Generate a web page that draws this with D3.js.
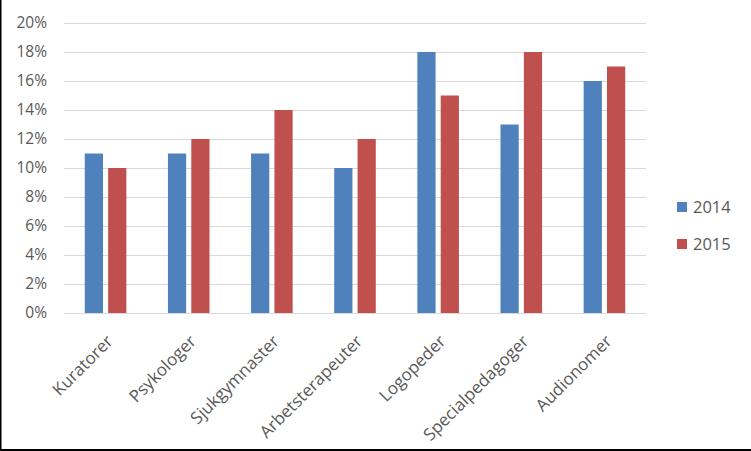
<!DOCTYPE html>
<html>
<head>
<meta charset="utf-8">
<script src="https://cdn.jsdelivr.net/npm/d3@7"></script>
<style>
  body { margin: 0; background: #fff; }
  svg { display: block; }
</style>
</head>
<body>
<div id="chart"></div>
<script>
// Data
const CATEGORIES = ["Kuratorer", "Psykologer", "Sjukgymnaster", "Arbetsterapeuter", "Logopeder", "Specialpedagoger", "Audionomer"];
const SERIES = ["2014", "2015"];
const VALUES_2014 = [0.11, 0.11, 0.11, 0.10, 0.18, 0.13, 0.16];
const VALUES_2015 = [0.10, 0.12, 0.14, 0.12, 0.15, 0.18, 0.17];
const Y_TICKS = [0, 0.02, 0.04, 0.06, 0.08, 0.10, 0.12, 0.14, 0.16, 0.18, 0.20];

const COLORS = {
  "2014": "#4f81bd",
  "2015": "#c0504d",
  grid: "#d9d9d9",
  text: "#595959",
};
const FONT = "'Open Sans', 'Liberation Sans', sans-serif";

const WIDTH = 751, HEIGHT = 451;
const plot = { left: 64, right: 646, top: 23, bottom: 313 };

const rows = CATEGORIES.map((c, i) => ({ cat: c, "2014": VALUES_2014[i], "2015": VALUES_2015[i] }));

const svg = d3.select("#chart").append("svg")
  .attr("width", WIDTH)
  .attr("height", HEIGHT);

const x0 = d3.scaleBand()
  .domain(CATEGORIES)
  .range([plot.left, plot.right])
  .paddingInner(0.5)
  .paddingOuter(0.25);

const x1 = d3.scaleBand()
  .domain(SERIES)
  .range([0, x0.bandwidth()])
  .paddingInner(0.22);

const y = d3.scaleLinear()
  .domain([0, 0.2])
  .range([plot.bottom, plot.top]);

// gridlines
svg.append("g")
  .selectAll("line")
  .data(Y_TICKS)
  .enter()
  .append("line")
  .attr("x1", plot.left)
  .attr("x2", plot.right)
  .attr("y1", (d) => Math.round(y(d)) + 0.5)
  .attr("y2", (d) => Math.round(y(d)) + 0.5)
  .attr("stroke", COLORS.grid)
  .attr("stroke-width", 1);

// y axis labels
const yAxis = svg.append("g")
  .attr("transform", `translate(${plot.left - 17},0)`)
  .call(d3.axisLeft(y).tickValues(Y_TICKS).tickFormat(d3.format(".0%")).tickSize(0).tickPadding(0));
yAxis.select(".domain").remove();
yAxis.selectAll("text")
  .attr("fill", COLORS.text)
  .style("font-family", FONT)
  .style("font-size", "15.5px");

// bars
svg.append("g")
  .selectAll("g")
  .data(rows)
  .enter()
  .append("g")
  .attr("transform", (d) => `translate(${x0(d.cat)},0)`)
  .selectAll("rect")
  .data((d) => SERIES.map((s) => ({ key: s, value: d[s] })))
  .enter()
  .append("rect")
  .attr("x", (d) => x1(d.key))
  .attr("width", x1.bandwidth())
  .attr("y", (d) => y(d.value))
  .attr("height", (d) => y(0) - y(d.value))
  .attr("fill", (d) => COLORS[d.key]);

// x labels, rotated
svg.append("g")
  .selectAll("text")
  .data(CATEGORIES)
  .enter()
  .append("text")
  .attr("transform", (d) => `translate(${x0(d) + x0.bandwidth() / 2},${plot.bottom + 21}) rotate(-45)`)
  .attr("text-anchor", "end")
  .attr("dy", "0.7em")
  .attr("fill", COLORS.text)
  .style("font-family", FONT)
  .style("font-size", "17px")
  .text((d) => d);

// legend
const legend = svg.append("g")
  .selectAll("g")
  .data(SERIES)
  .enter()
  .append("g")
  .attr("transform", (d, i) => `translate(677,${207 + i * 37})`);
legend.append("rect")
  .attr("x", 0)
  .attr("y", -5)
  .attr("width", 10)
  .attr("height", 10)
  .attr("fill", (d) => COLORS[d]);
legend.append("text")
  .attr("x", 16)
  .attr("dy", "0.36em")
  .attr("fill", COLORS.text)
  .style("font-family", FONT)
  .style("font-size", "16.5px")
  .text((d) => d);

// frame (left and bottom edges visible)
svg.append("line")
  .attr("x1", 0.75).attr("x2", 0.75)
  .attr("y1", 0).attr("y2", HEIGHT)
  .attr("stroke", "#000").attr("stroke-width", 1.5);
svg.append("line")
  .attr("x1", 0).attr("x2", WIDTH)
  .attr("y1", 450).attr("y2", 450)
  .attr("stroke", "#000").attr("stroke-width", 2);
</script>
</body>
</html>
